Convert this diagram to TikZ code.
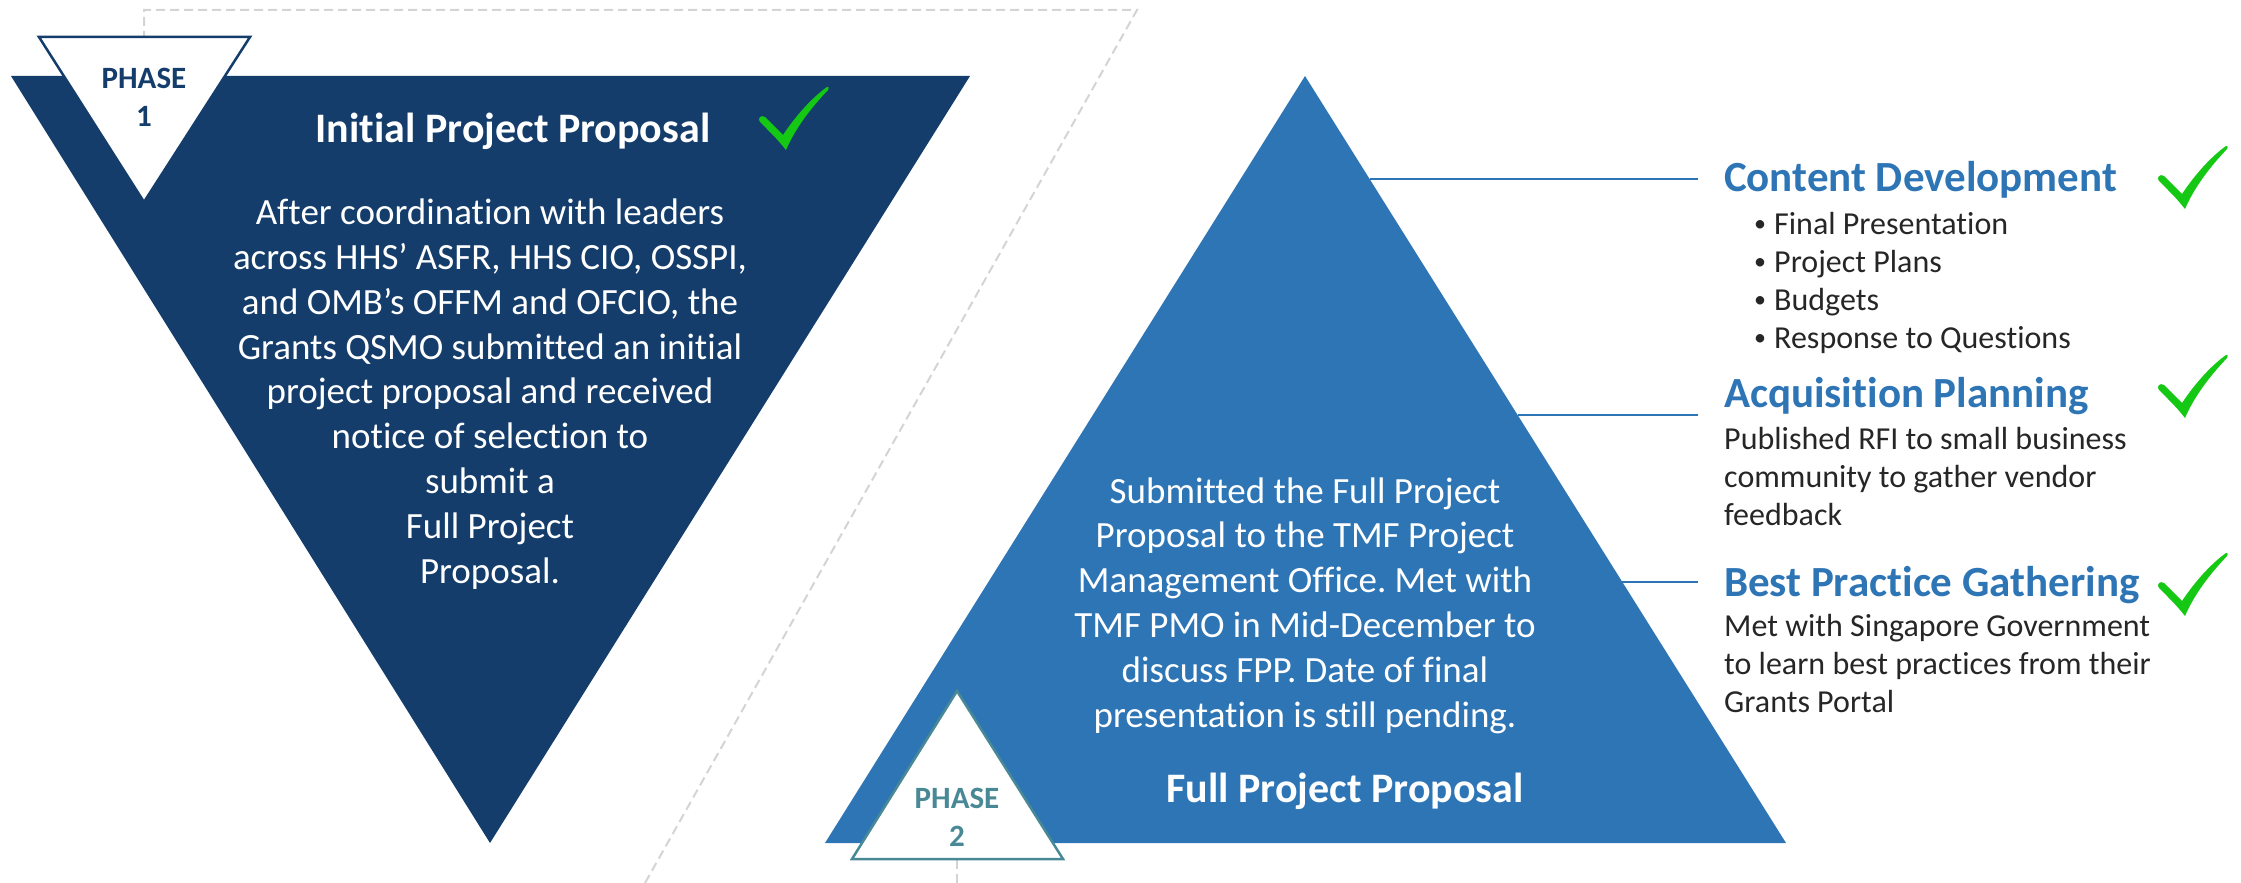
\documentclass[tikz,border=0pt]{standalone}
\usepackage{fontspec}
\setmainfont{Carlito}[Ligatures=NoCommon]
\usepackage{tikz}
\usetikzlibrary{positioning}
\frenchspacing

\definecolor{darkblue}{RGB}{20,61,107}
\definecolor{midblue}{RGB}{46,117,182}
\definecolor{tealgray}{RGB}{73,137,150}
\definecolor{tickgreen}{RGB}{20,200,20}
\definecolor{guidegray}{RGB}{212,212,212}
\definecolor{bodygray}{RGB}{38,38,38}

\newcommand{\dotitem}{\makebox[20pt][l]{\raisebox{2.5pt}{\fontsize{24}{24}\selectfont\textbullet}}}

\begin{document}
\begin{tikzpicture}[x=1pt, y=-1pt,
    guide/.style = {draw=guidegray, line width=2pt, dash pattern=on 9pt off 5pt},
    link/.style = {draw=midblue, line width=2.5pt},
    badge/.style = {fill=white, line width=2.5pt, line join=miter},
    phase/.style = {font=\fontsize{31}{38}\selectfont\bfseries, align=center, inner sep=0},
    title/.style = {text=white, font=\fontsize{42}{50}\selectfont\bfseries, inner sep=0},
    body/.style = {text=white, font=\fontsize{37}{44.8}\selectfont, align=center, inner sep=0},
    head/.style = {text=midblue, font=\fontsize{43}{50}\selectfont\bfseries, inner sep=0, outer xsep=26pt},
    note/.style = {text=bodygray, font=\fontsize{32}{38}\selectfont, align=left, inner sep=0},
    donetick/.pic = {
        \fill[tickgreen] (1,1) .. controls (-8,-10) .. (-25,-27)
            .. controls (-28,-30) and (-24,-35) .. (-20,-32)
            .. controls (-12,-24) .. (-2,-14)
            .. controls (12,-35) and (28,-52) .. (42,-62)
            .. controls (44,-62) .. (43,-59)
            .. controls (25,-40) and (10,-20) .. (1,1) -- cycle;
    }]
    \useasboundingbox (0,0) rectangle (2241,883);

    % dashed guide behind both phases
    \draw[guide] (144,40) -- (144,10) -- (1137,10) -- (645,883);
    \draw[guide] (957,883) -- (957,855);

    % phase 1: inverted triangle
    \fill[darkblue] (11,76) -- (970,76) -- (490,843) -- cycle;
    \draw[badge, draw=darkblue] (39,37) -- (250,37) -- (144,202) -- cycle;
    \node[phase, text=darkblue, anchor=base] (p1) at (144,126) {PHASE\\1};

    \node[title, anchor=base] (t1) at (513,142) {Initial Project Proposal};
    \pic (k1) at (785,149) {donetick};
    % base anchor sits on the last line
    \node[body, anchor=base] (b1) at (490,583) {After coordination with leaders\\
        across HHS’ ASFR, HHS CIO, OSSPI,\\
        and OMB’s OFFM and OFCIO, the\\
        Grants QSMO submitted an initial\\
        project proposal and received\\
        notice of selection to\\
        submit a\\
        Full Project\\
        Proposal.};

    % phase 2: upright triangle
    \fill[midblue] (825,843) -- (1786,843) -- (1305,76) -- cycle;
    \draw[badge, draw=tealgray] (852,859) -- (1063,859) -- (957,691) -- cycle;
    \node[phase, text=tealgray, anchor=base] (p2) at (957,846) {PHASE\\2};

    \node[body, anchor=base] (b2) at (1305,727) {Submitted the Full Project\\
        Proposal to the TMF Project\\
        Management Office. Met with\\
        TMF PMO in Mid-December to\\
        discuss FPP. Date of final\\
        presentation is still pending.};
    \node[title, anchor=base] (t2) at (1345,802) {Full Project Proposal};

    % work streams on the right
    \coordinate (e1) at (1370,179);
    \coordinate (e2) at (1518,415);
    \coordinate (e3) at (1622,582);

    \node[head, anchor=base west] (cd) at (1698,191) {Content Development};
    \node[note, anchor=base west] (cdl) at (1754,348) {%
        \dotitem Final Presentation\\
        \dotitem Project Plans\\
        \dotitem Budgets\\
        \dotitem Response to Questions};
    \pic (k2) at (2184,208) {donetick};

    \node[head, anchor=base west] (ap) at (1698,407) {Acquisition Planning};
    \node[note, anchor=base west] (apl) at (1724,525) {Published RFI to small business\\
        community to gather vendor\\
        feedback};
    \pic (k3) at (2184,417) {donetick};

    \node[head, anchor=base west] (bp) at (1698,596) {Best Practice Gathering};
    \node[note, anchor=base west] (bpl) at (1724,712) {Met with Singapore Government\\
        to learn best practices from their\\
        Grants Portal};
    \pic (k4) at (2184,615) {donetick};

    \draw[link] (e1) -- (e1 -| cd.west);
    \draw[link] (e2) -- (e2 -| ap.west);
    \draw[link] (e3) -- (e3 -| bp.west);
\end{tikzpicture}
\end{document}
